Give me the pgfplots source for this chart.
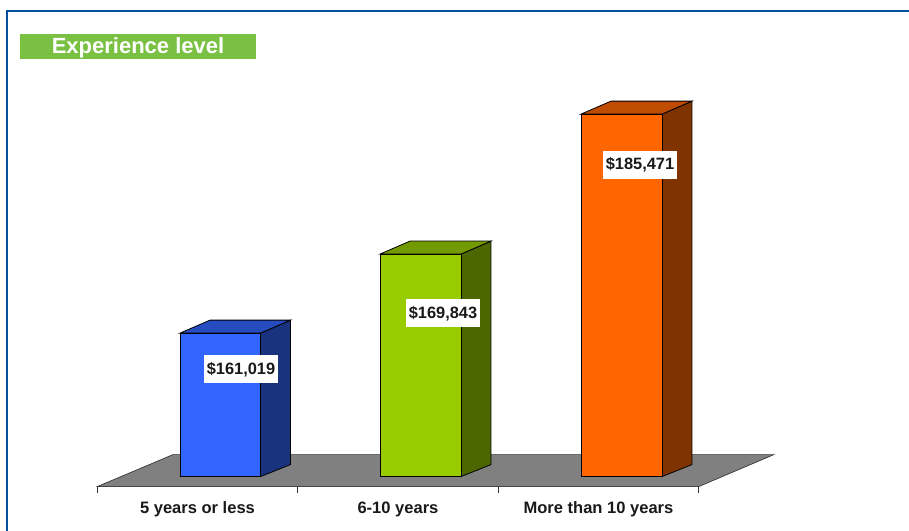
\documentclass[border=0pt]{standalone}
\usepackage{pgfplots}
\pgfplotsset{compat=1.18}
\usepackage{fontspec}
\setmainfont{Liberation Sans}
\definecolor{frameblue}{HTML}{00509E}
\definecolor{bandgreen}{HTML}{7AC143}
\definecolor{floorgray}{HTML}{808080}
\definecolor{blueF}{HTML}{3366FF}
\definecolor{blueT}{HTML}{264DBF}
\definecolor{blueS}{HTML}{19337F}
\definecolor{greenF}{HTML}{99CC00}
\definecolor{greenT}{HTML}{739900}
\definecolor{greenS}{HTML}{4C6600}
\definecolor{orangeF}{HTML}{FF6600}
\definecolor{orangeT}{HTML}{BF4C00}
\definecolor{orangeS}{HTML}{7F3300}
\begin{document}
\begin{tikzpicture}[x=0.75pt,y=0.75pt]
  % page area, with the origin at the lower left corner
  \path[use as bounding box] (0,0) rectangle (909,531);
  % outer frame and heading band
  \draw[frameblue,line width=2.2pt] (7,0) -- (7,520) -- (909,520);
  \fill[bandgreen] (20,472) rectangle (256,497);
  \node[text=white,font=\bfseries\fontsize{16.5}{19}\selectfont,anchor=center] at (138,483) {Experience level};
  \begin{axis}[
    at={(72.94pt,33.3pt)},anchor=south west,
    scale only axis,
    width=451.1pt,height=364.5pt,
    xmin=-0.5,xmax=2.5,
    ymin=143883,ymax=198149,
    clip=false,
    axis x line*=bottom,
    axis y line=none,
    axis line style={black!80,line width=0.6pt,-},
    xtick={0,1,2},
    xticklabels={5 years or less,6-10 years,More than 10 years},
    minor xtick={-0.5,0.5,1.5,2.5},
    tick align=outside,
    major tick length=0pt,
    minor tick length=4.5pt,
    minor tick style={black!80,line width=0.5pt},
    xticklabel style={font=\bfseries\fontsize{12.4}{14}\selectfont,yshift=-7.6pt,
      text height=9pt,text depth=2.5pt,text=black!90},
  ]
    % floor of the chart
    \addplot[draw=black!80,line width=0.5pt,fill=floorgray] coordinates
      {(-0.5,143883) (2.5,143883) (2.875,147456) (-0.122,147456)} -- cycle;

    % 5 years or less: 161019
    \addplot[draw=black,line width=0.6pt,fill=blueS] coordinates
      {(0.3142,145000) (0.4638,146340) (0.4638,162471) (0.3142,161019)} -- cycle;
    \addplot[draw=black,line width=0.6pt,fill=blueT] coordinates
      {(-0.0873,161019) (0.0623,162471) (0.4638,162471) (0.3142,161019)} -- cycle;
    \addplot[draw=black,line width=0.6pt,fill=blueF] coordinates
      {(-0.0873,145000) (-0.0873,161019) (0.3142,161019) (0.3142,145000)} -- cycle;

    % 6-10 years: 169843
    \addplot[draw=black,line width=0.6pt,fill=greenS] coordinates
      {(1.3142,145000) (1.4638,146340) (1.4638,171295) (1.3142,169843)} -- cycle;
    \addplot[draw=black,line width=0.6pt,fill=greenT] coordinates
      {(0.9102,169843) (1.0598,171295) (1.4638,171295) (1.3142,169843)} -- cycle;
    \addplot[draw=black,line width=0.6pt,fill=greenF] coordinates
      {(0.9102,145000) (0.9102,169843) (1.3142,169843) (1.3142,145000)} -- cycle;

    % More than 10 years: 185471
    \addplot[draw=black,line width=0.6pt,fill=orangeS] coordinates
      {(2.3167,145000) (2.4663,146340) (2.4663,186923) (2.3167,185471)} -- cycle;
    \addplot[draw=black,line width=0.6pt,fill=orangeT] coordinates
      {(1.9127,185471) (2.0623,186923) (2.4663,186923) (2.3167,185471)} -- cycle;
    \addplot[draw=black,line width=0.6pt,fill=orangeF] coordinates
      {(1.9127,145000) (1.9127,185471) (2.3167,185471) (2.3167,145000)} -- cycle;

    % value labels on white plates
    \addplot[only marks,mark=none,
      nodes near coords,
      point meta=explicit symbolic,
      nodes near coords align={center},
      every node near coord/.append style={
        fill=white,text=black!90,font=\bfseries\fontsize{12.3}{14}\selectfont,
        minimum width=55pt,minimum height=21pt,inner sep=0pt,anchor=center}]
      table[meta=label] {
        x y label
        0.217 156990 {\$161,019}
        1.2244 163240 {\$169,843}
        2.207 179830 {\$185,471}
      };
  \end{axis}
\end{tikzpicture}
\end{document}
